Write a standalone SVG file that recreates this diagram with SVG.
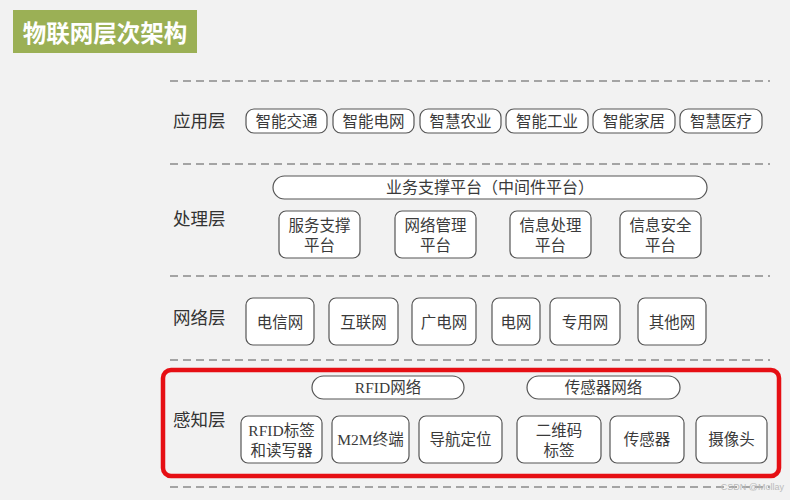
<svg xmlns="http://www.w3.org/2000/svg" width="790" height="500" viewBox="0 0 790 500">
<style>
.bg{fill:#f2f2f2}
.dash{stroke:#8a8a8a;stroke-width:1.5;stroke-dasharray:8 5;fill:none}
.box{fill:#ffffff;stroke:#555555;stroke-width:1.2}
.t{font-family:"Liberation Serif","Noto Sans CJK SC",serif;font-size:15.5px;fill:#3a3a3a;text-anchor:middle;dominant-baseline:central}
.lbl{font-family:"Liberation Serif","Noto Sans CJK SC",serif;font-size:17.5px;fill:#333333;dominant-baseline:central}
</style>
<rect class="bg" x="0" y="0" width="790" height="500"/>
<g id="title">
<rect x="13" y="10" width="184" height="43" fill="#9bb055"/>
<text x="105" y="32" font-family="'Noto Sans CJK SC',sans-serif" font-size="23.5" font-weight="bold" fill="#ffffff" text-anchor="middle" dominant-baseline="central">物联网层次架构</text>
</g>
<g id="separators">
<line class="dash" x1="170" y1="81" x2="770" y2="81"/>
<line class="dash" x1="170" y1="164" x2="770" y2="164"/>
<line class="dash" x1="170" y1="276" x2="770" y2="276"/>
<line class="dash" x1="170" y1="360" x2="770" y2="360"/>
<line class="dash" x1="170" y1="487" x2="770" y2="487"/>
</g>
<g id="app-layer">
<text class="lbl" x="173" y="121">应用层</text>
<g id="app1"><rect class="box" x="246" y="109" width="81" height="24" rx="8"/><text class="t" x="286.5" y="121">智能交通</text></g>
<g id="app2"><rect class="box" x="333" y="109" width="81" height="24" rx="8"/><text class="t" x="373.5" y="121">智能电网</text></g>
<g id="app3"><rect class="box" x="420" y="109" width="81" height="24" rx="8"/><text class="t" x="460.5" y="121">智慧农业</text></g>
<g id="app4"><rect class="box" x="506" y="109" width="82" height="24" rx="8"/><text class="t" x="547" y="121">智能工业</text></g>
<g id="app5"><rect class="box" x="593" y="109" width="82" height="24" rx="8"/><text class="t" x="634" y="121">智能家居</text></g>
<g id="app6"><rect class="box" x="680" y="109" width="82" height="24" rx="8"/><text class="t" x="721" y="121">智慧医疗</text></g>
</g>
<g id="proc-layer">
<text class="lbl" x="173" y="219">处理层</text>
<g id="middleware"><rect class="box" x="273" y="176" width="434" height="23" rx="11.5"/><text class="t" x="490" y="187.5" style="font-size:16px">业务支撑平台（中间件平台）</text></g>
<g id="proc1"><rect class="box" x="279" y="211" width="81" height="47" rx="7"/><text class="t" x="319.5" y="225">服务支撑</text><text class="t" x="319.5" y="245">平台</text></g>
<g id="proc2"><rect class="box" x="395" y="211" width="81" height="47" rx="7"/><text class="t" x="435.5" y="225">网络管理</text><text class="t" x="435.5" y="245">平台</text></g>
<g id="proc3"><rect class="box" x="510" y="211" width="81" height="47" rx="7"/><text class="t" x="550.5" y="225">信息处理</text><text class="t" x="550.5" y="245">平台</text></g>
<g id="proc4"><rect class="box" x="620" y="211" width="81" height="47" rx="7"/><text class="t" x="660.5" y="225">信息安全</text><text class="t" x="660.5" y="245">平台</text></g>
</g>
<g id="net-layer">
<text class="lbl" x="173" y="318">网络层</text>
<g id="net1"><rect class="box" x="246" y="298" width="68" height="47" rx="7"/><text class="t" x="280" y="322">电信网</text></g>
<g id="net2"><rect class="box" x="329" y="298" width="69" height="47" rx="7"/><text class="t" x="363.5" y="322">互联网</text></g>
<g id="net3"><rect class="box" x="412" y="298" width="64" height="47" rx="7"/><text class="t" x="444" y="322">广电网</text></g>
<g id="net4"><rect class="box" x="492" y="298" width="48" height="47" rx="7"/><text class="t" x="516" y="322">电网</text></g>
<g id="net5"><rect class="box" x="550" y="298" width="70" height="47" rx="7"/><text class="t" x="585" y="322">专用网</text></g>
<g id="net6"><rect class="box" x="638" y="298" width="68" height="47" rx="7"/><text class="t" x="672" y="322">其他网</text></g>
</g>
<g id="sense-layer">
<rect x="163" y="370" width="616" height="106" rx="8" fill="none" stroke="#e60f14" stroke-width="4.5"/>
<text class="lbl" x="173" y="420">感知层</text>
<g id="rfidnet"><rect class="box" x="312" y="376" width="152" height="23" rx="11.5"/><text class="t" x="388" y="387.5">RFID网络</text></g>
<g id="sensornet"><rect class="box" x="527" y="376" width="153" height="23" rx="11.5"/><text class="t" x="603.5" y="387.5">传感器网络</text></g>
<g id="s1"><rect class="box" x="241" y="416" width="81" height="47" rx="7"/><text class="t" x="281.5" y="430">RFID标签</text><text class="t" x="281.5" y="450">和读写器</text></g>
<g id="s2"><rect class="box" x="332" y="416" width="77" height="47" rx="7"/><text class="t" x="370.5" y="439">M2M终端</text></g>
<g id="s3"><rect class="box" x="419" y="416" width="83" height="47" rx="7"/><text class="t" x="460.5" y="439">导航定位</text></g>
<g id="s4"><rect class="box" x="517" y="416" width="84" height="47" rx="7"/><text class="t" x="559" y="430">二维码</text><text class="t" x="559" y="450">标签</text></g>
<g id="s5"><rect class="box" x="610" y="416" width="74" height="47" rx="7"/><text class="t" x="647" y="439">传感器</text></g>
<g id="s6"><rect class="box" x="696" y="416" width="71" height="47" rx="7"/><text class="t" x="731.5" y="439">摄像头</text></g>
</g>
<text x="784" y="487" font-family="'Liberation Sans',sans-serif" font-size="9" fill="#bbbbbb" text-anchor="end" dominant-baseline="central">CSDN @Mollay</text>
</svg>
